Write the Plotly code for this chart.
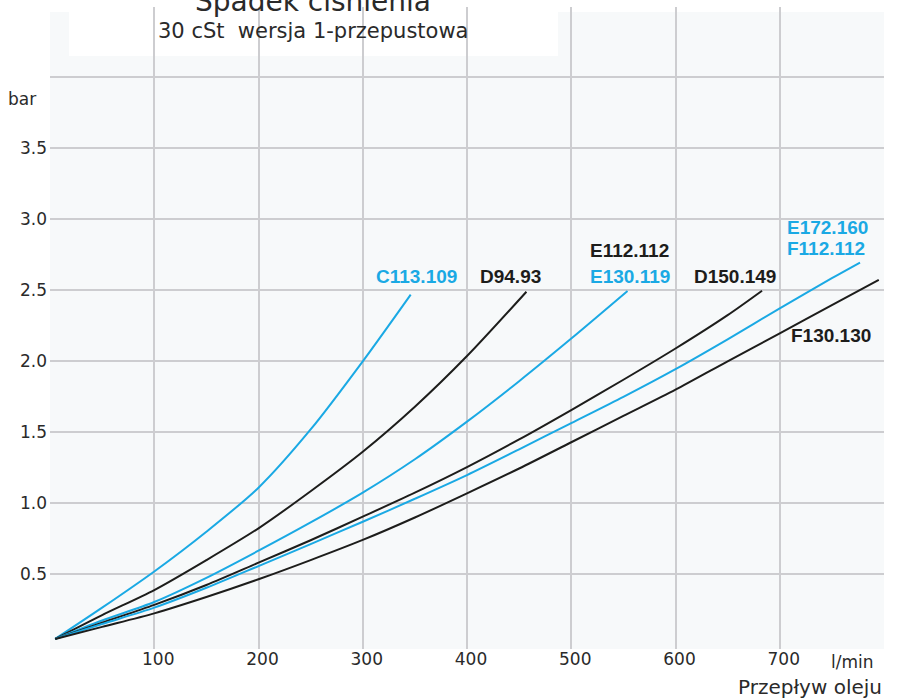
import plotly.graph_objects as go

# ---- data (flow l/min, pressure drop bar) ----
c113_x = [5, 50, 100, 150, 200, 250, 300, 346]
c113_y = [0.045, 0.265, 0.52, 0.80, 1.11, 1.52, 2.0, 2.47]

d94_x = [5, 50, 100, 150, 200, 250, 300, 350, 400, 457]
d94_y = [0.045, 0.213, 0.389, 0.60, 0.824, 1.085, 1.363, 1.68, 2.037, 2.49]

e130_x = [5, 50, 100, 150, 200, 250, 300, 350, 400, 450, 500, 554]
e130_y = [0.045, 0.175, 0.305, 0.475, 0.666, 0.865, 1.075, 1.31, 1.575, 1.86, 2.16, 2.495]

d150_x = [5, 50, 100, 150, 200, 250, 300, 350, 400, 450, 500, 550, 600, 650, 683]
d150_y = [0.045, 0.16, 0.285, 0.425, 0.582, 0.74, 0.906, 1.075, 1.255, 1.45, 1.657, 1.87, 2.09, 2.325, 2.497]

e172_x = [5, 50, 100, 150, 200, 250, 300, 350, 400, 450, 500, 550, 600, 650, 700, 750, 777]
e172_y = [0.045, 0.15, 0.265, 0.405, 0.558, 0.713, 0.87, 1.032, 1.199, 1.38, 1.565, 1.75, 1.945, 2.155, 2.373, 2.585, 2.695]

f130_x = [5, 50, 100, 150, 200, 250, 300, 350, 400, 450, 500, 550, 600, 650, 700, 750, 795]
f130_y = [0.045, 0.13, 0.225, 0.34, 0.465, 0.60, 0.742, 0.90, 1.07, 1.245, 1.43, 1.615, 1.80, 2.0, 2.197, 2.395, 2.573]

x_ticks = [100, 200, 300, 400, 500, 600, 700]
x_tick_labels = ["100", "200", "300", "400", "500", "600", "700"]
y_ticks = [0.5, 1.0, 1.5, 2.0, 2.5, 3.0, 3.5, 4.0]
y_tick_labels = ["0.5", "1.0", "1.5", "2.0", "2.5", "3.0", "3.5", ""]

curve_labels = ["C113.109", "D94.93", "E112.112", "E130.119", "D150.149",
                "E172.160", "F112.112", "F130.130"]

BLUE = "#1aa9e4"
BLACK = "#1d1d1b"
GRID = "#cdcdd0"
TXT = "#2a2a2a"

series = [
    (c113_x, c113_y, BLUE),
    (d94_x, d94_y, BLACK),
    (e130_x, e130_y, BLUE),
    (d150_x, d150_y, BLACK),
    (e172_x, e172_y, BLUE),
    (f130_x, f130_y, BLACK),
]

fig = go.Figure()
for xs, ys, col in series:
    fig.add_trace(go.Scatter(x=xs, y=ys, mode="lines",
                             line=dict(color=col, width=2, shape="spline", smoothing=0.8),
                             hoverinfo="skip", showlegend=False))

# label placement (data coords) and colours
label_pos = [(352, 2.60), (442, 2.60), (556, 2.78), (556, 2.60), (657, 2.60),
             (746, 2.94), (744, 2.795), (749, 2.18)]
label_col = [BLUE, BLACK, BLACK, BLUE, BLACK, BLUE, BLUE, BLACK]

annotations = []
for txt, (lx, ly), col in zip(curve_labels, label_pos, label_col):
    annotations.append(dict(x=lx, y=ly, xref="x", yref="y", text="<b>%s</b>" % txt,
                            showarrow=False, xanchor="center", yanchor="middle",
                            font=dict(family="Liberation Sans, Arial", size=19, color=col)))

REG = "DejaVu Sans"
annotations += [
    dict(x=0.9626, y=-0.0195, xref="paper", yref="paper", text="l/min", showarrow=False,
         xanchor="center", yanchor="middle", font=dict(family=REG, size=17, color=TXT)),
    dict(x=1.0, y=-0.0592, xref="paper", yref="paper", text="Przepływ oleju", showarrow=False,
         xanchor="right", yanchor="middle", font=dict(family=REG, size=20, color=TXT)),
    dict(x=-0.0144, y=0.856, xref="paper", yref="paper", text="bar", showarrow=False,
         xanchor="right", yanchor="middle", font=dict(family=REG, size=17, color=TXT)),
    dict(x=0.3153, y=1.0078, xref="paper", yref="paper", text="Spadek ciśnienia", showarrow=False,
         xanchor="center", yanchor="middle", font=dict(family=REG, size=28, color=TXT)),
    dict(x=0.3159, y=0.962, xref="paper", yref="paper", text="30 cSt  wersja 1-przepustowa",
         showarrow=False, xanchor="center", yanchor="middle", font=dict(family=REG, size=21, color=TXT)),
]

shapes = [
    dict(type="rect", xref="paper", yref="paper", x0=0, x1=1, y0=0, y1=0.9922,
         fillcolor="#f7f9fa", line=dict(width=0), layer="below"),
    dict(type="rect", xref="paper", yref="paper", x0=0.0228, x1=0.609, y0=0.9237, y1=1.011,
         fillcolor="white", line=dict(width=0), layer="between"),
]

fig.update_layout(
    width=902, height=700,
    margin=dict(l=50, r=18, t=7, b=51, autoexpand=False),
    paper_bgcolor="white", plot_bgcolor="white",
    showlegend=False,
    annotations=annotations, shapes=shapes,
    xaxis=dict(range=[0, 800], tickvals=x_ticks, ticktext=x_tick_labels,
               showgrid=True, gridcolor=GRID, gridwidth=1.5, zeroline=False, showline=False,
               ticks="", tickfont=dict(family=REG, size=17, color=TXT), ticklabelshift=4,
               ticklabelstandoff=-2, automargin=False),
    yaxis=dict(range=[-0.026, 4.495], tickvals=y_ticks, ticktext=y_tick_labels,
               showgrid=True, gridcolor=GRID, gridwidth=1.5, zeroline=False, showline=False,
               ticks="", tickfont=dict(family=REG, size=17, color=TXT), ticklabelstandoff=2,
               automargin=False),
)

fig.write_html("out.html", config={"displayModeBar": False},
               post_script="document.body.style.margin='0';document.body.style.overflow='hidden';")
